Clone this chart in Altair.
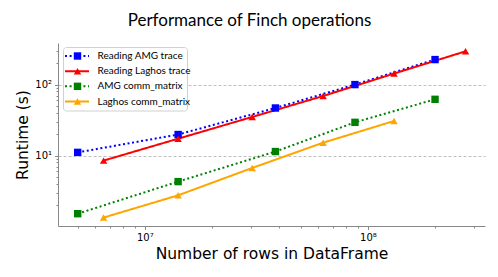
import altair as alt
import pandas as pd

# ---- data ----
amg_rows = [5.0e6, 1.41e7, 3.85e7, 8.75e7, 2.0e8]
amg_trace = [11.1, 19.8, 46.8, 100.0, 225.0]
amg_comm = [1.52, 4.3, 11.4, 29.4, 62.0]

laghos_rows_trace = [6.53e6, 1.41e7, 3.03e7, 6.3e7, 1.31e8, 2.74e8]
laghos_trace = [8.5, 17.3, 35.0, 69.0, 143.0, 294.0]
laghos_rows_comm = [6.53e6, 1.41e7, 3.03e7, 6.3e7, 1.31e8]
laghos_comm = [1.34, 2.76, 6.7, 15.2, 30.7]

series_names = ["Reading AMG trace", "Reading Laghos trace",
                "AMG comm_matrix", "Laghos comm_matrix"]
series_colors = ["#0000ff", "#ff0000", "#008000", "#ffa500"]
series_shapes = ["square", "triangle-up", "square", "triangle-up"]
series_dashes = [[2, 2.6], [1, 0], [2, 2.6], [1, 0]]

x_ticks = [5e6, 6e6, 7e6, 8e6, 9e6, 1e7, 2e7, 3e7, 4e7, 5e7, 6e7, 7e7, 8e7, 9e7,
           1e8, 2e8, 3e8]
y_ticks = [2, 3, 4, 5, 6, 7, 8, 9, 10, 20, 30, 40, 50, 60, 70, 80, 90, 100, 200, 300]

rows = []
for name, xs, ys in [
    (series_names[0], amg_rows, amg_trace),
    (series_names[1], laghos_rows_trace, laghos_trace),
    (series_names[2], amg_rows, amg_comm),
    (series_names[3], laghos_rows_comm, laghos_comm),
]:
    for i, (xv, yv) in enumerate(zip(xs, ys)):
        rows.append({"series": name, "rows": xv, "runtime": yv, "order": i})
df = pd.DataFrame(rows)

color = alt.Color("series:N", scale=alt.Scale(domain=series_names, range=series_colors), legend=None)
shape = alt.Shape("series:N", scale=alt.Scale(domain=series_names, range=series_shapes), legend=None)
dash = alt.StrokeDash("series:N", scale=alt.Scale(domain=series_names, range=series_dashes), legend=None)

x_enc = alt.X(
    "rows:Q",
    scale=alt.Scale(type="log", domain=[4.08e6, 3.35e8], nice=False),
    axis=alt.Axis(
        title="Number of rows in DataFrame",
        values=x_ticks,
        labelExpr="datum.value == 1e7 ? '10⁷' : datum.value == 1e8 ? '10⁸' : ''",
        tickSize={"condition": {"test": "datum.value == 1e7 || datum.value == 1e8", "value": 3.5}, "value": 2},
        grid=False,
        titlePadding=4,
    ),
)
y_enc = alt.Y(
    "runtime:Q",
    scale=alt.Scale(type="log", domain=[1.02, 385], nice=False),
    axis=alt.Axis(
        title="Runtime (s)",
        values=y_ticks,
        labelExpr="datum.value == 10 ? '10¹' : datum.value == 100 ? '10²' : ''",
        tickSize={"condition": {"test": "datum.value == 10 || datum.value == 100", "value": 3.5}, "value": 2},
        grid=True,
        gridOpacity={"condition": {"test": "datum.value == 10 || datum.value == 100", "value": 1}, "value": 0},
    ),
)

base = alt.Chart(df)
lines = base.mark_line(strokeWidth=2).encode(x=x_enc, y=y_enc, color=color, strokeDash=dash, order="order:Q")
points = base.mark_point(filled=True, size=55, opacity=1).encode(x=x_enc, y=y_enc, color=color, shape=shape)
main = alt.layer(lines, points)

# ---- legend ----
leg_df = pd.DataFrame({"series": series_names, "row": list(range(len(series_names)))})
leg_y = alt.Y("row:Q", scale=alt.Scale(domain=[0, 3], range=[13, 58.5]), axis=None)
leg_base = alt.Chart(leg_df)
box = leg_base.mark_rect(fill="white", stroke="#cccccc", strokeWidth=1, cornerRadius=3, opacity=0.9).encode(
    x=alt.value(5.5), x2=alt.value(129.5), y=alt.value(4.5), y2=alt.value(68)
).transform_filter("datum.row == 0")
leg_lines = leg_base.mark_rule(strokeWidth=2).encode(
    x=alt.value(7), x2=alt.value(31), y=leg_y, color=color, strokeDash=dash
)
leg_pts = leg_base.mark_point(filled=True, size=55, opacity=1).encode(
    x=alt.value(19.5), y=leg_y, color=color, shape=shape
)
leg_text = leg_base.mark_text(align="left", baseline="middle", font="Lato", fontSize=10, color="#000000").encode(
    x=alt.value(39.5), y=leg_y, text="series:N"
)
legend = alt.layer(box, leg_lines, leg_pts, leg_text)

chart = alt.layer(main, legend).resolve_scale(y="independent", x="independent").properties(
    width=427,
    height=183,
    autosize=alt.AutoSizeParams(type="none"),
    padding={"left": 50, "top": 35, "right": 5, "bottom": 45},
    title=alt.Title("Performance of Finch operations", font="Lato", fontSize=17,
                    fontWeight="normal", anchor="middle", dx=-22, offset=13, color="#000000"),
).configure_view(stroke=None).configure_axis(
    domainColor="#888888",
    tickColor="#888888",
    labelFont="DejaVu Sans",
    labelFontSize=10,
    labelColor="#000000",
    titleFont="DejaVu Sans",
    titleFontSize=15.5,
    titleFontWeight="normal",
    titleColor="#000000",
    gridColor="#b0b0b0",
    gridDash=[3, 2],
    gridWidth=0.8,
    labelPadding=3,
)

chart.save("out.html", embed_options={"renderer": "svg", "actions": False})
